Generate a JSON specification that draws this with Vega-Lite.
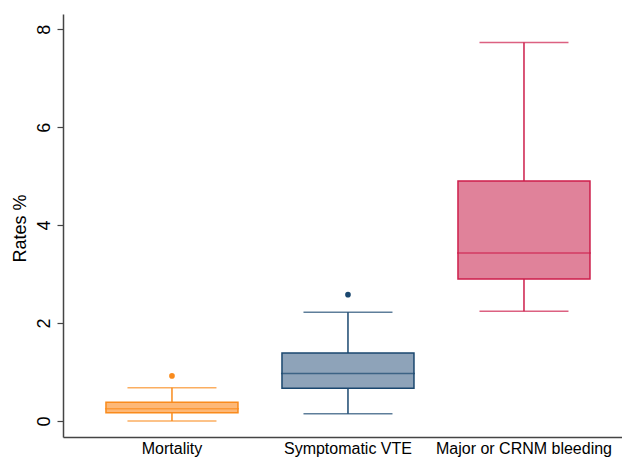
{
  "$schema": "https://vega.github.io/schema/vega-lite/v6.json",
  "width": 559,
  "height": 423,
  "autosize": "none",
  "padding": {"left": 63, "top": 14, "right": 0, "bottom": 20},
  "background": "white",
  "config": {
    "view": {"stroke": null},
    "font": "Liberation Sans",
    "axis": {"grid": false, "domainColor": "#444444", "tickColor": "#444444", "labelColor": "#000000", "titleColor": "#000000", "labelFont": "Liberation Sans", "titleFont": "Liberation Sans", "domainWidth": 1.5}
  },
  "datasets": {
    "boxes": [
      {"cat": "Mortality", "lower": 0.0, "q1": 0.17, "median": 0.25, "q3": 0.38, "upper": 0.68},
      {"cat": "Symptomatic VTE", "lower": 0.15, "q1": 0.67, "median": 0.97, "q3": 1.39, "upper": 2.22},
      {"cat": "Major or CRNM bleeding", "lower": 2.24, "q1": 2.90, "median": 3.43, "q3": 4.90, "upper": 7.73}
    ],
    "outliers": [
      {"cat": "Mortality", "value": 0.92},
      {"cat": "Symptomatic VTE", "value": 2.58}
    ]
  },
  "encoding": {
    "x": {
      "field": "cat", "type": "nominal",
      "sort": ["Mortality", "Symptomatic VTE", "Major or CRNM bleeding"],
      "scale": {"paddingInner": 0.25, "paddingOuter": 0.213, "align": 0.573},
      "axis": {"title": null, "labelAngle": 0, "ticks": false, "labelFontSize": 16, "labelPadding": 3}
    }
  },
  "layer": [
    {
      "data": {"name": "boxes"},
      "mark": {"type": "rule", "strokeWidth": 1.5},
      "encoding": {
        "y": {
          "field": "lower", "type": "quantitative",
          "scale": {"domain": [-0.327, 8.31], "nice": false, "zero": false},
          "axis": {"title": "Rates %", "values": [0, 2, 4, 6, 8], "labelAngle": 270, "labelFontSize": 18, "titleFontSize": 18, "titleFontWeight": "normal", "tickSize": 6, "labelPadding": 4, "titlePadding": 6, "titleY": 214, "tickWidth": 1.2}
        },
        "y2": {"field": "upper"},
        "stroke": {"field": "cat", "type": "nominal", "scale": {"domain": ["Mortality", "Symptomatic VTE", "Major or CRNM bleeding"], "range": ["#f98b1d", "#1a476f", "#cd1e4b"]}, "legend": null}
      }
    },
    {
      "data": {"name": "boxes"},
      "mark": {"type": "bar", "width": 132, "strokeWidth": 1.5, "fillOpacity": 1},
      "encoding": {
        "y": {"field": "q1", "type": "quantitative"},
        "y2": {"field": "q3"},
        "fill": {"field": "cat", "type": "nominal", "scale": {"domain": ["Mortality", "Symptomatic VTE", "Major or CRNM bleeding"], "range": ["#fdb877", "#8ea3b9", "#e0829a"]}, "legend": null},
        "stroke": {"field": "cat", "type": "nominal", "legend": null}
      }
    },
    {
      "data": {"name": "boxes"},
      "mark": {"type": "tick", "size": 134, "thickness": 1.5},
      "encoding": {
        "y": {"field": "median", "type": "quantitative"},
        "color": {"field": "cat", "type": "nominal", "scale": {"domain": ["Mortality", "Symptomatic VTE", "Major or CRNM bleeding"], "range": ["#f98b1d", "#1a476f", "#cd1e4b"]}, "legend": null}
      }
    },
    {
      "data": {"name": "boxes"},
      "mark": {"type": "tick", "size": 89, "thickness": 1.5},
      "encoding": {
        "y": {"field": "lower", "type": "quantitative"},
        "color": {"field": "cat", "type": "nominal", "legend": null}
      }
    },
    {
      "data": {"name": "boxes"},
      "mark": {"type": "tick", "size": 89, "thickness": 1.5},
      "encoding": {
        "y": {"field": "upper", "type": "quantitative"},
        "color": {"field": "cat", "type": "nominal", "legend": null}
      }
    },
    {
      "data": {"name": "outliers"},
      "mark": {"type": "point", "filled": true, "size": 32, "opacity": 1},
      "encoding": {
        "y": {"field": "value", "type": "quantitative"},
        "color": {"field": "cat", "type": "nominal", "legend": null}
      }
    }
  ]
}
